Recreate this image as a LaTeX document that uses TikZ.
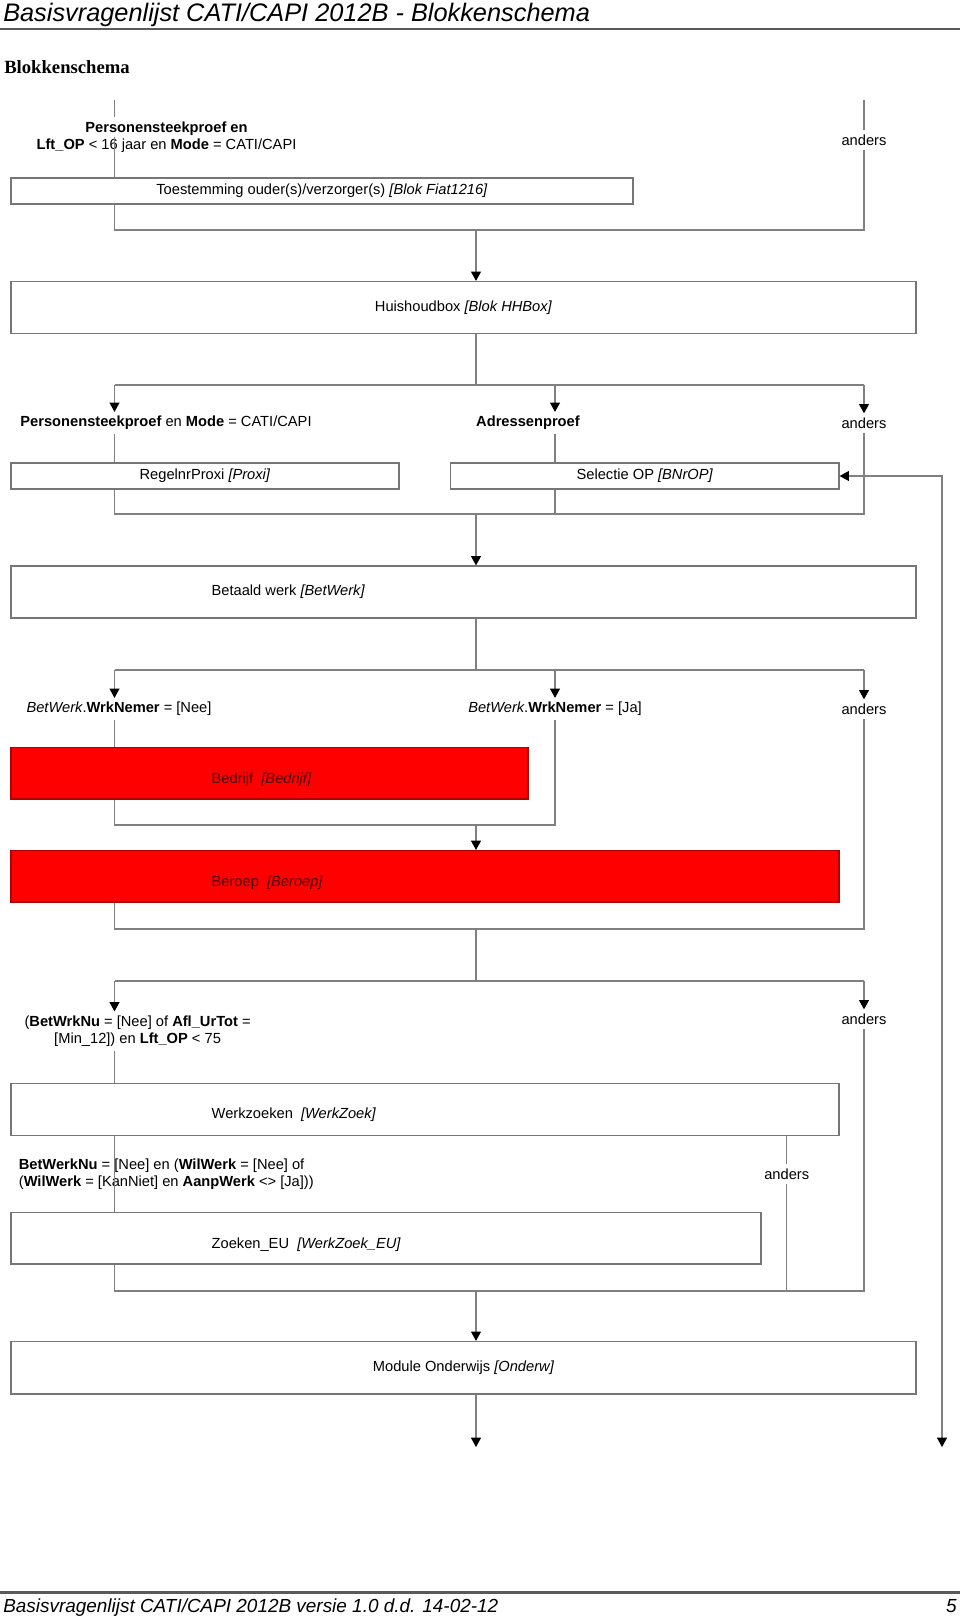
\documentclass[tikz,border=0pt]{standalone}
\usepackage{fontspec}
\setmainfont{Liberation Sans}
\newfontfamily\kopfont{Liberation Serif}
\usepackage{xcolor}
\usepackage{tikz}
\usetikzlibrary{arrows.meta, positioning}
\definecolor{mygrey}{RGB}{128,128,128}
\definecolor{myframe}{RGB}{118,118,118}
\definecolor{myrule}{RGB}{90,90,90}
\definecolor{myred}{RGB}{255,0,0}
\definecolor{myredline}{RGB}{175,0,0}
\definecolor{myredtext}{RGB}{70,0,0}
\tikzset{
  block/.style={rectangle, draw=myframe, fill=white, line width=0.9pt,
    inner sep=0pt, font=\fontsize{11}{12.75}\selectfont},
  redblock/.style={block, draw=myredline, fill=myred},
  blocktext/.style={inner sep=0pt, font=\fontsize{11}{12.75}\selectfont},
  cond/.style={inner sep=3pt, font=\fontsize{11}{12.75}\selectfont},
  arrow/.style={-{Triangle[width=7.5pt, length=7pt, color=black]},
    line width=0.8pt, color=mygrey},
  dblarrow/.style={{Triangle[width=7.5pt, length=7pt, color=black]}-{Triangle[width=7.5pt, length=7pt, color=black]},
    line width=0.8pt, color=mygrey},
  line/.style={line width=0.8pt, color=mygrey},
  rule/.style={line width=1.6pt, color=myrule}
}

\begin{document}
\begin{tikzpicture}[x=0.75pt, y=-0.75pt]
  \useasboundingbox (0,0) rectangle (960,1617);
  \node[anchor=base west, inner sep=0pt, font=\fontsize{19}{22}\selectfont\itshape] (titel) at (3,21) {Basisvragenlijst CATI/CAPI 2012B - Blokkenschema};
  \draw[rule] (0,29) -- (960,29);
  \node[anchor=base west, inner sep=0pt, font=\kopfont\bfseries\fontsize{14}{17}\selectfont] (kop) at (4,73) {Blokkenschema};

  \node[block, minimum width=466.5pt, minimum height=19.5pt] (toest) at (322,191) {Toestemming ouder(s)/verzorger(s) \textit{[Blok Fiat1216]}};
  \node[block, minimum width=678.75pt, minimum height=39pt] (hhbox) at (463.5,307.5) {Huishoudbox \textit{[Blok HHBox]}};
  \node[block, minimum width=291pt, minimum height=19.5pt] (proxi) at (205,476) {RegelnrProxi \textit{[Proxi]}};
  \node[block, minimum width=291.3pt, minimum height=19.5pt] (bnrop) at (644.8,476) {Selectie OP \textit{[BNrOP]}};
  \node[block, minimum width=678.75pt, minimum height=39pt] (betwerk) at (463.5,592) {};
  \node[blocktext, right=150.75pt of betwerk.west] (betwerktxt) {Betaald werk \textit{[BetWerk]}};
  \node[redblock, minimum width=387.75pt, minimum height=38.6pt] (bedrijf) at (269.5,773.25) {};
  \node[blocktext, text=myredtext, right=150.75pt of bedrijf.west, yshift=-4.5pt] (bedrijftxt) {Bedrijf\ \ \textit{[Bedrijf]}};
  \node[redblock, minimum width=621pt, minimum height=38.6pt] (beroep) at (425,876.3) {};
  \node[blocktext, text=myredtext, right=150.75pt of beroep.west, yshift=-4.5pt] (beroeptxt) {Beroep\ \ \textit{[Beroep]}};
  \node[block, minimum width=621pt, minimum height=38.6pt] (werkzoek) at (425,1109.4) {};
  \node[blocktext, right=150.75pt of werkzoek.west, yshift=-4pt] (werkzoektxt) {Werkzoeken\ \ \textit{[WerkZoek]}};
  \node[block, minimum width=562.5pt, minimum height=38.6pt] (zoekeu) at (386,1238.3) {};
  \node[blocktext, right=150.75pt of zoekeu.west, yshift=-4.5pt] (zoekeutxt) {Zoeken\_EU\ \ \textit{[WerkZoek\_EU]}};
  \node[block, minimum width=678.75pt, minimum height=39.4pt] (onderw) at (463.5,1367.75) {Module Onderwijs \textit{[Onderw]}};

  \node[cond, align=center] (c1) at (166.5,137) {\textbf{Personensteekproef en}\\\textbf{Lft\_OP} < 16 jaar en \textbf{Mode} = CATI/CAPI};
  \node[cond] (a1) at (864,140) {anders};
  \node[cond] (c2) at (166,423) {\textbf{Personensteekproef} en \textbf{Mode} = CATI/CAPI};
  \node[cond] (c3) at (528,423) {\textbf{Adressenproef}};
  \node[cond] (a2) at (864,423) {anders};
  \node[cond] (c4) at (119,709) {\textit{BetWerk}.\textbf{WrkNemer} = [Nee]};
  \node[cond] (c5) at (555,709) {\textit{BetWerk}.\textbf{WrkNemer} = [Ja]};
  \node[cond] (a3) at (864,709) {anders};
  \node[cond, align=center] (c6) at (137.6,1031) {(\textbf{BetWrkNu} = [Nee] of \textbf{Afl\_UrTot} =\\{}[Min\_12]) en \textbf{Lft\_OP} < 75};
  \node[cond] (a4) at (864,1019) {anders};
  \node[cond, align=left, anchor=west] (c7) at (14.6,1174) {\textbf{BetWerkNu} = [Nee] en (\textbf{WilWerk} = [Nee] of\\(\textbf{WilWerk} = [KanNiet] en \textbf{AanpWerk} <> [Ja]))};
  \node[cond] (a5) at (786.7,1174) {anders};

  \coordinate (top1) at (114.5,100);
  \coordinate (top2) at (864,100);
  \coordinate (adr) at (555,385);
  \coordinate (m1) at (476,230);
  \coordinate (m2) at (476,385);
  \coordinate (m3) at (476,514);
  \coordinate (m4) at (476,670);
  \coordinate (m5) at (476,825);
  \coordinate (m6) at (476,929);
  \coordinate (m7) at (476,981);
  \coordinate (m9) at (476,1291);
  \coordinate (uit1) at (476,1447);
  \coordinate (uit2) at (942,1447);

  \draw[line] (top1) -- (top1 |- c1.north);
  \draw[line] (top1 |- c1.center) -- (top1 |- toest.north);
  \draw[line] (top2) -- (a1.north);
  \draw[line] (top1 |- toest.south) -- (top1 |- m1) -- (top2 |- m1) -- (a1.south);
  \draw[arrow] (m1) -- (m1 |- hhbox.north);

  \draw[line] (hhbox.south -| m2) -- (m2);
  \draw[line] (top1 |- m2) -- (top2 |- m2);
  \draw[arrow] (top1 |- m2) -- (top1 |- c2.north);
  \draw[arrow] (adr) -- (adr |- c3.north);
  \draw[arrow] (top2 |- m2) -- (a2.north);
  \draw[line] (top1 |- c2.south) -- (top1 |- proxi.north);
  \draw[line] (adr |- c3.south) -- (adr |- bnrop.north);
  \draw[line] (top1 |- proxi.south) -- (top1 |- m3) -- (top2 |- m3) -- (a2.south);
  \draw[line] (adr |- bnrop.south) -- (adr |- m3);
  \draw[arrow] (m3) -- (m3 |- betwerk.north);

  \draw[line] (betwerk.south -| m4) -- (m4);
  \draw[line] (top1 |- m4) -- (top2 |- m4);
  \draw[arrow] (top1 |- m4) -- (top1 |- c4.north);
  \draw[arrow] (adr |- m4) -- (c5.north);
  \draw[arrow] (top2 |- m4) -- (a3.north);
  \draw[line] (top1 |- c4.south) -- (top1 |- bedrijf.north);
  \draw[line] (top1 |- bedrijf.south) -- (top1 |- m5) -- (adr |- m5) -- (c5.south);
  \draw[arrow] (m5) -- (m5 |- beroep.north);
  \draw[line] (top1 |- beroep.south) -- (top1 |- m6) -- (top2 |- m6) -- (a3.south);

  \draw[line] (m6) -- (m7);
  \draw[line] (top1 |- m7) -- (top2 |- m7);
  \draw[arrow] (top1 |- m7) -- (top1 |- c6.north);
  \draw[arrow] (top2 |- m7) -- (a4.north);
  \draw[line] (top1 |- c6.south) -- (top1 |- werkzoek.north);
  \draw[line] (top1 |- werkzoek.south) -- (top1 |- zoekeu.north);
  \draw[line] (a5 |- werkzoek.south) -- (a5.north);
  \draw[line] (top1 |- zoekeu.south) -- (top1 |- m9) -- (top2 |- m9) -- (a4.south);
  \draw[line] (a5.south) -- (a5 |- m9);
  \draw[arrow] (m9) -- (m9 |- onderw.north);
  \draw[arrow] (onderw.south -| uit1) -- (uit1);
  \draw[dblarrow] (uit2) |- (bnrop.east);

  \draw[rule] (0,1592.5) -- (960,1592.5);
  \node[anchor=base west, inner sep=0pt, font=\fontsize{14.2}{17}\selectfont\itshape] (voet) at (3,1612) {Basisvragenlijst CATI/CAPI 2012B versie 1.0 d.d. 14-02-12};
  \node[anchor=base east, inner sep=0pt, font=\fontsize{14.2}{17}\selectfont\itshape] (pagina) at (957,1612) {5};
\end{tikzpicture}
\end{document}
